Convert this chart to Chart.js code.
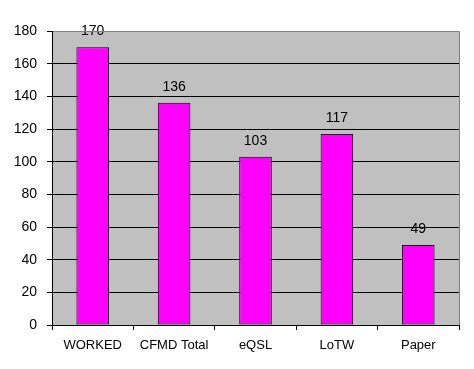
<!DOCTYPE html>
<html>
<head>
<meta charset="utf-8">
<script src="https://cdn.jsdelivr.net/npm/chart.js@4"></script>
<style>
  html, body { margin: 0; padding: 0; background: #fff; }
  #wrap { width: 474px; height: 369px; }
</style>
</head>
<body>
<div id="wrap"><canvas id="chart" width="474" height="369"></canvas></div>
<script>
// ===== DATOS =====
const categories = ['WORKED', 'CFMD Total', 'eQSL', 'LoTW', 'Paper'];
const counts = [170, 136, 103, 117, 49];
const yTicks = [0, 20, 40, 60, 80, 100, 120, 140, 160, 180];

const FONT = "Arial, 'Liberation Sans', sans-serif";

// fondo gris del area de trazado
const plotBg = {
    id: 'plotBg',
    beforeDraw(chart) {
        const { ctx, chartArea: a } = chart;
        ctx.save();
        ctx.fillStyle = '#c0c0c0';
        ctx.fillRect(a.left, a.top, a.right - a.left, a.bottom - a.top);
        ctx.restore();
    },
    afterDraw(chart) {
        const { ctx, chartArea: a } = chart;
        ctx.save();
        ctx.strokeStyle = '#808080';
        ctx.lineWidth = 1;
        ctx.beginPath();
        ctx.moveTo(a.left + 1, a.top + 0.5);
        ctx.lineTo(a.right + 0.5, a.top + 0.5);
        ctx.lineTo(a.right + 0.5, a.bottom);
        ctx.stroke();
        ctx.restore();
    }
};

// etiquetas de valor encima de las barras
const valueLabels = {
    id: 'valueLabels',
    afterDatasetsDraw(chart) {
        const { ctx } = chart;
        const meta = chart.getDatasetMeta(0);
        ctx.save();
        ctx.fillStyle = '#000';
        ctx.font = '14px ' + FONT;
        ctx.textAlign = 'center';
        ctx.textBaseline = 'alphabetic';
        meta.data.forEach((bar, i) => {
            ctx.fillText(String(counts[i]), bar.x, bar.y - 12);
        });
        ctx.restore();
    }
};

new Chart(document.getElementById('chart'), {
    type: 'bar',
    data: {
        labels: categories,
        datasets: [{
            data: counts,
            backgroundColor: '#ff00ff',
            borderColor: '#000',
            borderWidth: 1,
            borderSkipped: false,
            categoryPercentage: 1,
            barPercentage: 0.4
        }]
    },
    options: {
        responsive: false,
        animation: false,
        layout: { padding: { top: 31, right: 15, left: 0, bottom: 0 } },
        plugins: { legend: { display: false }, tooltip: { enabled: false } },
        scales: {
            x: {
                offset: true,
                grid: { offset: true, drawOnChartArea: false, color: '#000', tickLength: 5 },
                border: { color: '#000' },
                ticks: { color: '#000', font: { family: FONT, size: 13 }, padding: 8, maxRotation: 0 },
                afterFit(s) { s.height = 44; }
            },
            y: {
                min: 0,
                max: 180,
                grid: { color: '#000', tickLength: 5 },
                border: { color: '#000' },
                afterBuildTicks(s) { s.ticks = yTicks.map(v => ({ value: v })); },
                ticks: { color: '#000', font: { family: FONT, size: 14 }, padding: 10 },
                afterFit(s) { s.width = 52; }
            }
        }
    },
    plugins: [plotBg, valueLabels]
});
</script>
</body>
</html>
